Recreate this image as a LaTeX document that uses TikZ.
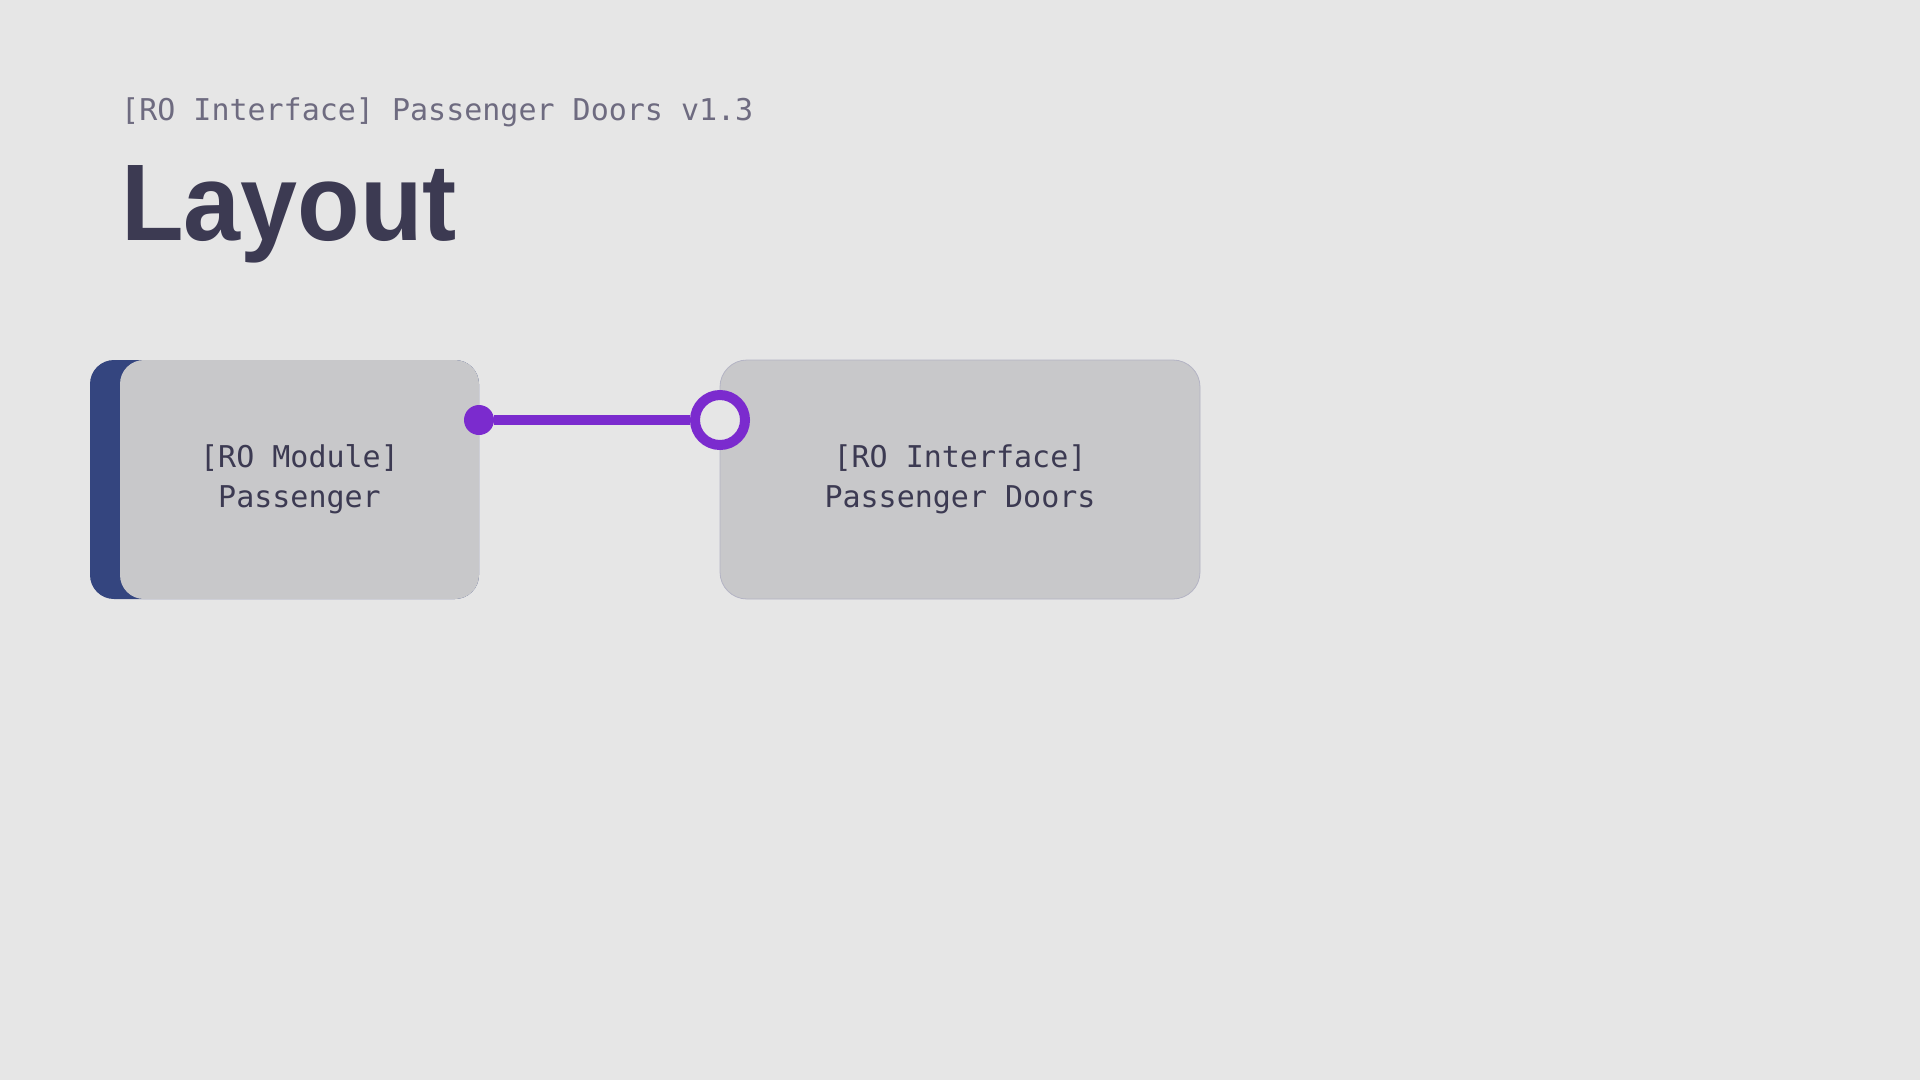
\documentclass[tikz,border=0pt]{standalone}
\usepackage{fontspec}
\setmainfont{Liberation Sans}
\newfontfamily\monof{DejaVu Sans Mono}
\newfontfamily\boldf{Liberation Sans}[UprightFont=* Bold]
\definecolor{bgc}{HTML}{E6E6E6}
\definecolor{boxgrey}{HTML}{C8C8CA}
\definecolor{navyc}{HTML}{34457F}
\definecolor{purplec}{HTML}{7B2BCE}
\definecolor{textdark}{HTML}{3C3A52}
\definecolor{subc}{HTML}{6E6B80}
\definecolor{borderc}{HTML}{B4B4C4}
\tikzset{
  modbox/.style={rectangle, rounded corners=24pt, fill=boxgrey, inner sep=0pt,
    minimum height=239pt, align=center, text=textdark,
    font=\monof\fontsize{30pt}{40pt}\selectfont},
  portdot/.style={circle, fill=purplec, inner sep=0pt, minimum size=30pt},
  portring/.style={circle, draw=purplec, fill=bgc, line width=10pt, inner sep=0pt, minimum size=50pt},
  link/.style={draw=purplec, line width=10pt}
}
\begin{document}
\begin{tikzpicture}[x=1pt,y=-1pt]
\fill[bgc] (0,0) rectangle (1920,1080);
\useasboundingbox (0,0) rectangle (1920,1080);
% header
\node[anchor=base west, inner sep=0pt, text=subc, font=\monof\fontsize{30pt}{36pt}\selectfont] (sub) at (121,120) {[RO Interface] Passenger Doors v1.3};
\node[anchor=base west, inner sep=0pt, text=textdark, font=\boldf\fontsize{109pt}{120pt}\selectfont] (title) at (121,240) {\scalebox{0.94}[1]{Layout}};
% left module with navy accent
\fill[navyc, rounded corners=24pt] (90,360) rectangle (479,599);
\node[modbox, minimum width=359pt] (mod) at (299.5,479.5) {[RO Module]\\Passenger};
% right interface box
\node[modbox, minimum width=480pt, draw=borderc, line width=0.8pt, rounded corners=27pt] (iface) at (960,479.5) {[RO Interface]\\Passenger Doors};
% connector
\node[portdot] (dot) at (479,420) {};
\node[portring] (ring) at (720,420) {};
\draw[link] (dot) -- (ring);
\end{tikzpicture}
\end{document}
